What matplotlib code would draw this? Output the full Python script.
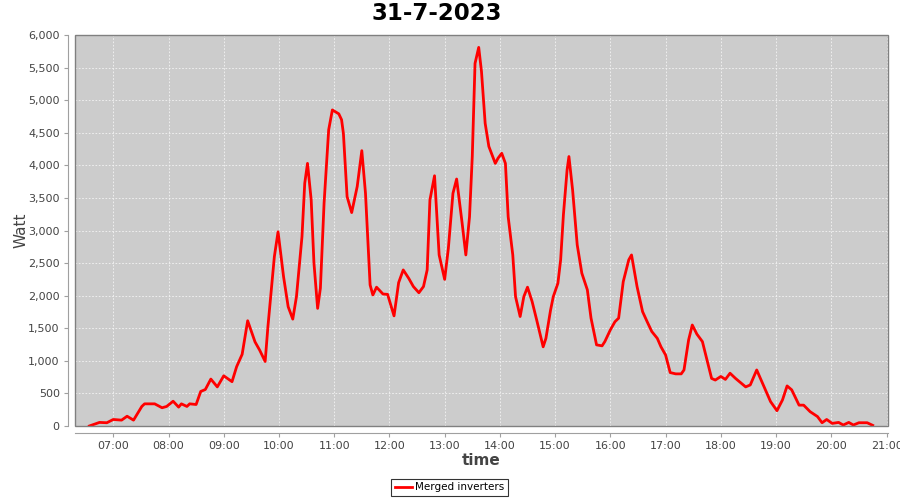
import matplotlib
matplotlib.use("Agg")
import matplotlib.pyplot as plt
from matplotlib.patches import Rectangle
from matplotlib.ticker import FuncFormatter, MultipleLocator

title = "31-7-2023"
series_name = "Merged inverters"

times = [
    "06:34", "06:45", "06:53", "07:00", "07:09", "07:15", "07:22", "07:31", "07:34", "07:45",
    "07:53", "07:58", "08:05", "08:11", "08:14", "08:20", "08:23", "08:30", "08:35", "08:40",
    "08:46", "08:53", "09:00", "09:09", "09:14", "09:20", "09:26", "09:34", "09:39", "09:45",
    "09:48", "09:55", "09:59", "10:05", "10:10", "10:15", "10:19", "10:25", "10:28", "10:31",
    "10:35", "10:38", "10:42", "10:45", "10:49", "10:54", "10:58", "11:05", "11:08", "11:10",
    "11:14", "11:19", "11:25", "11:30", "11:34", "11:39", "11:42", "11:46", "11:53", "11:58",
    "12:05", "12:10", "12:15", "12:21", "12:26", "12:32", "12:37", "12:41", "12:44", "12:49",
    "12:54", "13:00", "13:04", "13:09", "13:13", "13:19", "13:23", "13:27", "13:30", "13:33",
    "13:37", "13:40", "13:44", "13:48", "13:55", "13:58", "14:02", "14:06", "14:09", "14:14",
    "14:17", "14:22", "14:26", "14:30", "14:35", "14:40", "14:47", "14:50", "14:55", "14:58",
    "15:03", "15:06", "15:09", "15:13", "15:15", "15:19", "15:24", "15:29", "15:35", "15:39",
    "15:45", "15:51", "15:54", "16:00", "16:05", "16:09", "16:14", "16:20", "16:23", "16:29",
    "16:35", "16:40", "16:45", "16:51", "16:55", "17:00", "17:05", "17:11", "17:17", "17:20",
    "17:25", "17:29", "17:34", "17:40", "17:45", "17:50", "17:54", "18:00", "18:05", "18:10",
    "18:16", "18:27", "18:32", "18:39", "18:47", "18:54", "19:01", "19:07", "19:12", "19:17",
    "19:25", "19:30", "19:37", "19:45", "19:50", "19:55", "20:01", "20:08", "20:13", "20:19",
    "20:24", "20:30", "20:39", "20:45",
]
watt = [
    0, 55, 50, 100, 90, 150, 90, 300, 340, 340,
    280, 300, 380, 290, 340, 300, 340, 330, 530, 560,
    720, 600, 770, 680, 910, 1100, 1615, 1290, 1165, 990,
    1525, 2600, 2980, 2290, 1830, 1640, 1985, 2905, 3725, 4030,
    3470, 2500, 1805, 2115, 3420, 4545, 4850, 4790, 4700, 4490,
    3520, 3275, 3675, 4225, 3570, 2165, 2010, 2130, 2025, 2020,
    1690, 2200, 2395, 2265, 2140, 2045, 2140, 2395, 3470, 3840,
    2625, 2250, 2725, 3570, 3790, 3110, 2625, 3210, 4135, 5565,
    5810, 5440, 4645, 4290, 4030, 4110, 4185, 4030, 3210, 2625,
    1985, 1680, 1985, 2130, 1910, 1625, 1215, 1345, 1775, 1985,
    2190, 2550, 3240, 3930, 4135, 3620, 2780, 2345, 2090, 1655,
    1245, 1230, 1295, 1475, 1600, 1655, 2215, 2550, 2625, 2140,
    1755, 1600, 1450, 1345, 1215, 1090, 820, 800, 800, 860,
    1320, 1550, 1410, 1295, 1015, 730, 705, 760, 715, 810,
    730, 600, 630, 860, 600, 375, 235, 400, 615, 555,
    320, 320, 220, 145, 50, 100, 40, 55, 15, 55,
    15, 50, 50, 10,
]

hours = [int(t[:2]) + int(t[3:]) / 60 for t in times]

fig = plt.figure(figsize=(9, 5), dpi=100)
ax = fig.add_axes([75 / 900, 1 - 426 / 500, 813 / 900, 391 / 500])
ax.set_facecolor("#cccccc")

ax.plot(hours, watt, color="#ff0000", linewidth=2, solid_joinstyle="round",
        label=series_name)

ax.set_xlim(6.307, 21.027)
ax.set_ylim(0, 6000)
ax.xaxis.set_major_locator(MultipleLocator(1))
ax.yaxis.set_major_locator(MultipleLocator(500))
ax.xaxis.set_major_formatter(FuncFormatter(lambda v, p: "%02d:00" % round(v)))
ax.yaxis.set_major_formatter(FuncFormatter(lambda v, p: "{:,.0f}".format(v)))

ax.grid(True, color="#f4f4f4", linestyle=(0, (2, 2)), linewidth=0.6)
ax.set_axisbelow(True)

for s in ["top", "right"]:
    ax.spines[s].set_visible(False)
for s in ["left", "bottom"]:
    ax.spines[s].set_position(("outward", 5))
    ax.spines[s].set_color("#a0a0a0")
ax.add_patch(Rectangle((0, 0), 1, 1, transform=ax.transAxes, fill=False,
                       edgecolor="#808080", linewidth=1, clip_on=False, zorder=5))

ax.tick_params(axis="both", colors="#a0a0a0", labelcolor="#444444",
               labelsize=8, length=3, width=0.8, pad=3)

ax.set_xlabel("time", fontsize=11, fontweight="bold", color="#444444", labelpad=1)
ax.set_ylabel("Watt", fontsize=11, color="#444444", labelpad=0)

fig.text(0.485, 0.972, title, ha="center", va="center", fontsize=16.5,
         fontweight="bold", color="black")

leg = fig.legend(loc="center", bbox_to_anchor=(0.4994, 0.025), fontsize=7.5,
                 frameon=True, fancybox=False, handlelength=1.6,
                 handletextpad=0.3, borderpad=0.35, borderaxespad=0)
leg.get_frame().set_edgecolor("black")
leg.get_frame().set_linewidth(0.8)

fig.savefig("out.png", dpi=100)
